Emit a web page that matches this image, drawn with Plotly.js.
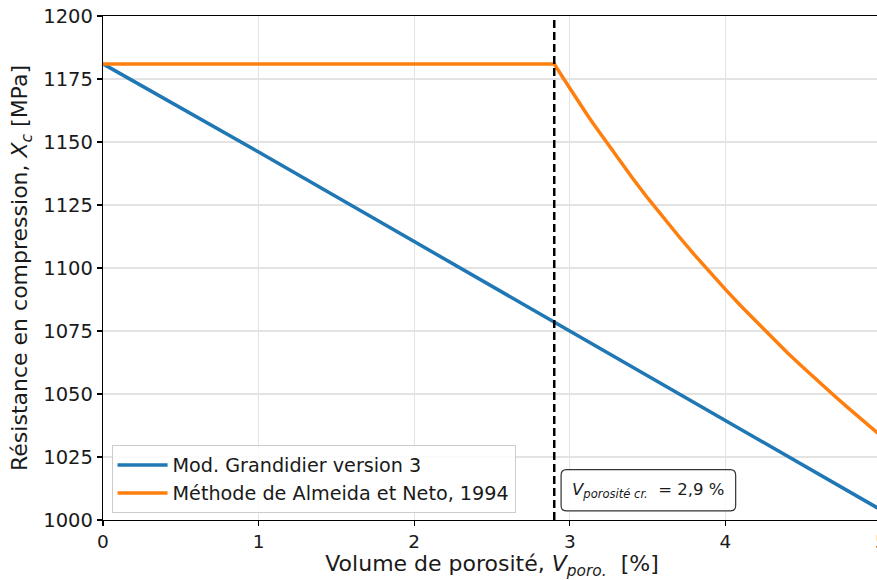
<!DOCTYPE html>
<html>
<head>
<meta charset="utf-8">
<script src="https://cdn.plot.ly/plotly-3.0.1.min.js"></script>
<style>
html,body{margin:0;padding:0;overflow:hidden;background:#fff;}
#chart{width:881px;height:580px;}
</style>
</head>
<body>
<div id="chart"></div>
<script>
// Data
var blueName = "Mod. Grandidier version 3";
var blueX = [0, 1, 2, 3, 4, 5];
var blueY = [1181, 1146, 1110.5, 1075, 1039.5, 1004];

var orangeName = "Méthode de Almeida et Neto, 1994";
var orangeX = [0, 1, 2, 2.9, 2.95, 3.0, 3.05, 3.1, 3.15, 3.2, 3.25, 3.3, 3.4, 3.5, 3.6, 3.7, 3.8, 3.9, 4.0, 4.1, 4.2, 4.3, 4.4, 4.5, 4.6, 4.7, 4.8, 4.9, 5.0];
var orangeY = [1181, 1181, 1181, 1181, 1176.1, 1171.2, 1166.5, 1161.9, 1157.3, 1152.9, 1148.5, 1144.2, 1135.9, 1127.8, 1120.1, 1112.6, 1105.3, 1098.3, 1091.5, 1084.9, 1078.6, 1072.4, 1066.3, 1060.5, 1054.8, 1049.3, 1043.9, 1038.6, 1033.4];

var criticalPorosity = 2.9;
var criticalLabel = "<i>V</i><sub><i>porosité cr.</i></sub>  = 2,9 %";

var xTicks = [0, 1, 2, 3, 4, 5];
var yTicks = [1000, 1025, 1050, 1075, 1100, 1125, 1150, 1175, 1200];

var textColor = "#1a1a1a";
var font = "DejaVu Sans, sans-serif";

var traces = [
  {x: blueX, y: blueY, mode: "lines", name: blueName,
   line: {color: "#1f77b4", width: 3.5}},
  {x: orangeX, y: orangeY, mode: "lines", name: orangeName,
   line: {color: "#ff7f0e", width: 3.5}}
];

// rounded box for the annotation (in data units)
var bx0 = 2.944, bx1 = 4.066, by0 = 1003.6, by1 = 1020.0, rx = 0.035, ry = 2.2;
var boxPath = "M " + (bx0+rx) + "," + by0 + " L " + (bx1-rx) + "," + by0 +
  " Q " + bx1 + "," + by0 + " " + bx1 + "," + (by0+ry) +
  " L " + bx1 + "," + (by1-ry) +
  " Q " + bx1 + "," + by1 + " " + (bx1-rx) + "," + by1 +
  " L " + (bx0+rx) + "," + by1 +
  " Q " + bx0 + "," + by1 + " " + bx0 + "," + (by1-ry) +
  " L " + bx0 + "," + (by0+ry) +
  " Q " + bx0 + "," + by0 + " " + (bx0+rx) + "," + by0 + " Z";

var layout = {
  width: 881, height: 580,
  margin: {l: 103, r: 0, t: 16, b: 60},
  paper_bgcolor: "#fff", plot_bgcolor: "#fff",
  font: {family: font, color: textColor, size: 19},
  showlegend: true,
  legend: {
    x: 0.011, y: 0.014, xanchor: "left", yanchor: "bottom",
    bgcolor: "rgba(255,255,255,0.85)", bordercolor: "#cccccc", borderwidth: 1,
    font: {family: font, size: 19.2, color: textColor},
    tracegroupgap: 0, itemwidth: 50
  },
  xaxis: {
    range: [0, 5], tickvals: xTicks, ticktext: xTicks.map(String),
    showgrid: true, gridcolor: "#e3e3e3", gridwidth: 1.3,
    zeroline: false, showline: true, linecolor: "#000", linewidth: 1.2, mirror: true,
    ticks: "outside", ticklen: 5, tickcolor: "#000", tickwidth: 1.2,
    ticklabeloverflow: "allow",
    tickfont: {family: font, size: 18.5, color: textColor},
    title: {text: "Volume de porosité, <i>V</i><sub><i>poro.</i></sub>  [%]",
            font: {family: font, size: 22, color: textColor}, standoff: 8}
  },
  yaxis: {
    range: [1000, 1200], tickvals: yTicks, ticktext: yTicks.map(String),
    showgrid: true, gridcolor: "#e3e3e3", gridwidth: 1.3,
    zeroline: false, showline: true, linecolor: "#000", linewidth: 1.2, mirror: true,
    ticks: "outside", ticklen: 5, tickcolor: "#000", tickwidth: 1.2,
    tickfont: {family: font, size: 19.5, color: textColor},
    title: {text: "Résistance en compression, <i>X</i><sub><i>c</i></sub> [MPa]",
            font: {family: font, size: 22, color: textColor}, standoff: 9}
  },
  shapes: [
    {type: "line", xref: "x", yref: "paper", x0: criticalPorosity, x1: criticalPorosity,
     y0: 0, y1: 1, line: {color: "#000", width: 2.5, dash: "8px,4px"}},
    {type: "path", xref: "x", yref: "y", path: boxPath,
     fillcolor: "rgba(255,255,255,0.85)", line: {color: "#333", width: 1.2}}
  ],
  annotations: [
    {xref: "x", yref: "y", x: (bx0 + bx1) / 2, y: (by0 + by1) / 2,
     text: criticalLabel, showarrow: false,
     font: {family: font, size: 16.5, color: textColor},
     xanchor: "center", yanchor: "middle"}
  ]
};

Plotly.newPlot("chart", traces, layout, {displayModeBar: false, staticPlot: true});
</script>
</body>
</html>
